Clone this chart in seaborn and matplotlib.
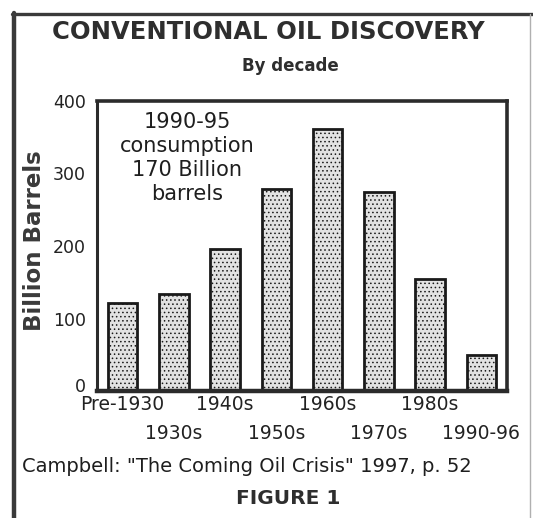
import matplotlib
matplotlib.use("Agg")
import matplotlib.pyplot as plt
import matplotlib.transforms as mtransforms
import seaborn as sns
import pandas as pd
from matplotlib.lines import Line2D

# ---- data ----
decades = ["Pre-1930", "1930s", "1940s", "1950s", "1960s", "1970s", "1980s", "1990-96"]
discovery = [121, 134, 196, 278, 362, 274, 154, 49]
y_ticks = [0, 100, 200, 300, 400]

title = "CONVENTIONAL OIL DISCOVERY"
subtitle = "By decade"
ylabel = "Billion Barrels"
note = "1990-95\nconsumption\n170 Billion\nbarrels"
source = 'Campbell: "The Coming Oil Crisis" 1997, p. 52'
figlabel = "FIGURE 1"

sns.set_theme(style="white")
plt.rcParams["font.family"] = ["DejaVu Sans"]
plt.rcParams["hatch.color"] = "#8a8a8a"
plt.rcParams["hatch.linewidth"] = 0.6

W, H = 533, 518
fig = plt.figure(figsize=(W / 100, H / 100), dpi=100)
fig.patch.set_facecolor("white")

ax_l, ax_r, ax_t, ax_b = 97, 507, 101, 391
ax = fig.add_axes([ax_l / W, 1 - ax_b / H, (ax_r - ax_l) / W, (ax_b - ax_t) / H])

df = pd.DataFrame({"decade": decades, "value": discovery})
sns.barplot(data=df, x="decade", y="value", ax=ax, width=0.58,
            color="#e2e2e2", saturation=1, edgecolor="#1a1a1a", linewidth=2.0)
for p in ax.patches:
    p.set_hatch("....")

ax.set_ylim(0, 400)
ax.set_xlim(-0.5, len(decades) - 0.5)
ax.set_yticks(y_ticks)
ax.set_yticklabels([str(v) for v in y_ticks], fontsize=12.5, color="#222222")
ax.set_xticks(range(len(decades)))
ax.set_xticklabels(decades, fontsize=13.5, color="#222222")
ax.tick_params(axis="y", length=0, pad=8)
ax.tick_params(axis="x", length=0, pad=3)
for i, tk in enumerate(ax.xaxis.get_major_ticks()):
    if i % 2 == 1:
        tk.set_pad(24)
ax.set_xlabel("")
ax.set_ylabel("")

# lift the "0" label slightly above the baseline, as in the reference
zero_lbl = ax.get_yticklabels()[0]
zero_lbl.set_transform(zero_lbl.get_transform() +
                       mtransforms.ScaledTranslation(0, 4 / 72, fig.dpi_scale_trans))

for side, lw in [("left", 2.2), ("right", 2.6), ("top", 2.6), ("bottom", 3.2)]:
    ax.spines[side].set_visible(True)
    ax.spines[side].set_linewidth(lw)
    ax.spines[side].set_color("#2b2b2b")

# annotation inside plot
ax.text((187 - ax_l) / (ax_r - ax_l), (ax_b - 158.5) / (ax_b - ax_t), note,
        transform=ax.transAxes, ha="center", va="center", fontsize=15,
        linespacing=1.25, color="#1e1e1e")

# titles and texts
fig.text(268 / W, 1 - 32 / H, title, ha="center", va="center",
         fontsize=17.5, fontweight="bold", color="#2e2e2e")
fig.text(290 / W, 1 - 66 / H, subtitle, ha="center", va="center",
         fontsize=12, fontweight="bold", color="#2e2e2e")
fig.text(35 / W, 1 - 241 / H, ylabel, rotation=90, ha="center", va="center",
         fontsize=16.5, fontweight="bold", color="#3a3a3a")
fig.text(22 / W, 1 - 466 / H, source, ha="left", va="center",
         fontsize=14, color="#1e1e1e")
fig.text(288 / W, 1 - 498 / H, figlabel, ha="center", va="center",
         fontsize=14.5, fontweight="bold", color="#2e2e2e")

# outer frame
fig.add_artist(Line2D([14 / W, 14 / W], [1 - 13 / H, 0], transform=fig.transFigure,
                      color="#3a3a3a", linewidth=3.2))
fig.add_artist(Line2D([12 / W, 533 / W], [1 - 14 / H, 1 - 14 / H], transform=fig.transFigure,
                      color="#3a3a3a", linewidth=2.4))
fig.add_artist(Line2D([530 / W, 530 / W], [1 - 14 / H, 0], transform=fig.transFigure,
                      color="#b0b0b0", linewidth=1.0))

fig.savefig("out.png", dpi=100)
